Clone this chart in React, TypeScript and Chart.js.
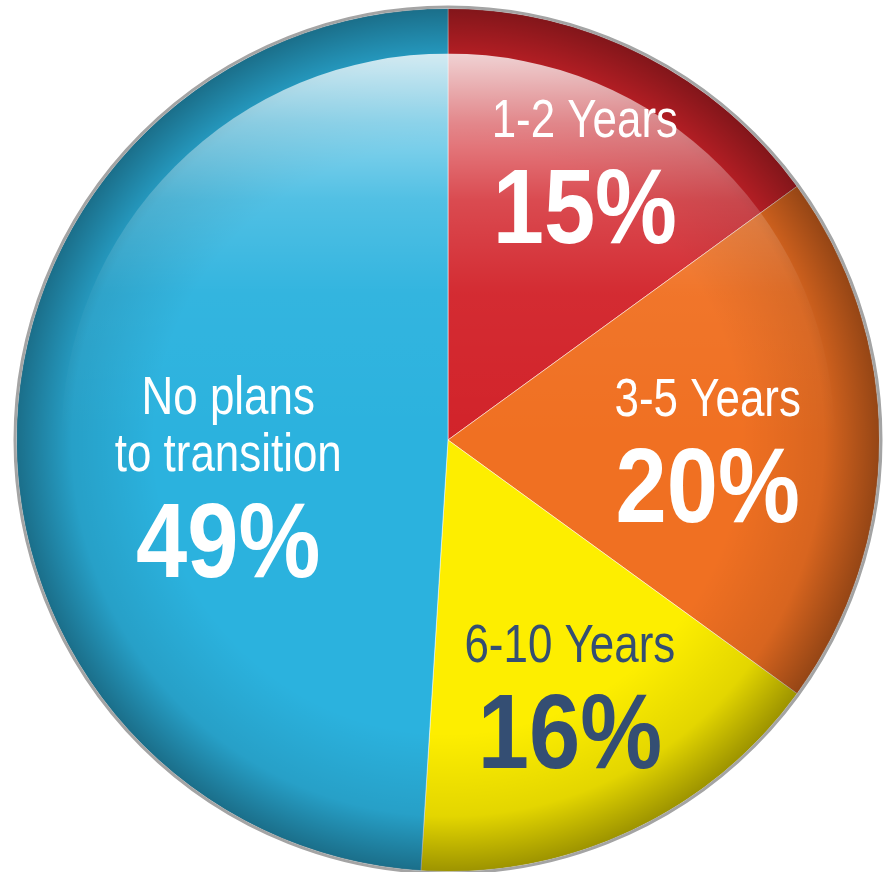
import React, { useEffect, useRef } from "react";
import { Chart, registerables } from "chart.js";

Chart.register(...registerables);

const categories = ["1-2 Years", "3-5 Years", "6-10 Years", "No plans to transition"];
const values = [15, 20, 16, 49];
const labelLines = [["1-2 Years"], ["3-5 Years"], ["6-10 Years"], ["No plans", "to transition"]];
const valueLabels = ["15%", "20%", "16%", "49%"];
const sliceColors = ["#D2232A", "#F07022", "#FDEE00", "#2BB2DE"];
const textColors = ["#FFFFFF", "#FFFFFF", "#344E73", "#FFFFFF"];

const glossPlugin = {
  id: "glossLabels",
  afterDatasetsDraw(chart: any, _args: any, opts: any) {
    const meta = chart.getDatasetMeta(0);
    if (!meta || !meta.data.length) return;
    const arc0 = meta.data[0];
    const cx = arc0.x;
    const cy = arc0.y;
    const R = arc0.outerRadius;
    const ctx = chart.ctx;
    const k = R / 432;

    // edge vignette
    ctx.save();
    ctx.beginPath();
    ctx.arc(cx, cy, R, 0, Math.PI * 2);
    ctx.clip();
    const rg = ctx.createRadialGradient(cx, cy, R * 0.68, cx, cy, R);
    rg.addColorStop(0, "rgba(0,0,0,0)");
    rg.addColorStop(0.6, "rgba(0,0,0,0.10)");
    rg.addColorStop(1, "rgba(0,0,0,0.38)");
    ctx.fillStyle = rg;
    ctx.fillRect(cx - R, cy - R, 2 * R, 2 * R);
    ctx.restore();

    // top highlight
    const hr = R - 45 * k;
    ctx.save();
    ctx.beginPath();
    ctx.arc(cx, cy, hr, 0, Math.PI * 2);
    ctx.clip();
    const top = cy - hr;
    const lg = ctx.createLinearGradient(0, top, 0, cy);
    lg.addColorStop(0, "rgba(255,255,255,0.80)");
    lg.addColorStop(0.18, "rgba(255,255,255,0.46)");
    lg.addColorStop(0.38, "rgba(255,255,255,0.18)");
    lg.addColorStop(0.62, "rgba(255,255,255,0.04)");
    lg.addColorStop(1, "rgba(255,255,255,0)");
    ctx.fillStyle = lg;
    ctx.fillRect(cx - hr, top, 2 * hr, hr);
    ctx.restore();

    // outer grey ring
    ctx.save();
    ctx.beginPath();
    ctx.arc(cx, cy, R + 1.5, 0, Math.PI * 2);
    ctx.strokeStyle = "#A4A4A4";
    ctx.lineWidth = 3;
    ctx.stroke();
    ctx.restore();

    // labels
    const anchors = opts.anchors as number[][];
    const fam = '"Liberation Sans", Arial, Helvetica, sans-serif';
    const drawText = (t: string, x: number, y: number, font: string, sx: number, color: string) => {
      ctx.save();
      ctx.translate(x, y);
      ctx.scale(sx, 1);
      ctx.font = font;
      ctx.fillStyle = color;
      ctx.textAlign = "center";
      ctx.textBaseline = "alphabetic";
      ctx.fillText(t, 0, 0);
      ctx.restore();
    };
    meta.data.forEach((_a: any, i: number) => {
      const [dx, dy] = anchors[i];
      const x = cx + dx * k;
      const yBig = cy + dy * k;
      const color = textColors[i];
      drawText(valueLabels[i], x, yBig, `bold ${106 * k}px ${fam}`, 0.87, color);
      const lines = labelLines[i];
      for (let j = lines.length - 1; j >= 0; j--) {
        const off = 106 + (lines.length - 1 - j) * 57;
        drawText(lines[j], x, yBig - off * k, `${53 * k}px ${fam}`, 0.83, color);
      }
    });
  },
};

export default function App() {
  const ref = useRef<HTMLCanvasElement | null>(null);
  useEffect(() => {
    if (!ref.current) return;
    const chart = new Chart(ref.current, {
      type: "pie",
      data: {
        labels: categories,
        datasets: [
          {
            data: values,
            backgroundColor: sliceColors,
            borderColor: "rgba(255,255,255,0.5)",
            borderWidth: 1,
          },
        ],
      },
      options: {
        responsive: false,
        animation: false,
        devicePixelRatio: 1,
        layout: { padding: { top: 8, bottom: 0, left: 0, right: 0 } },
        plugins: {
          legend: { display: false },
          tooltip: { enabled: false },
          glossLabels: {
            anchors: [
              [137, -197],
              [260, 82],
              [122, 328],
              [-220, 137],
            ],
          },
        } as any,
      },
      plugins: [glossPlugin],
    });
    return () => chart.destroy();
  }, []);
  return (
    <div style={{ position: "absolute", left: 0, top: 0, width: 896, height: 872, background: "#fff" }}>
      <canvas ref={ref} width={896} height={872} style={{ display: "block", width: 896, height: 872 }} />
    </div>
  );
}
